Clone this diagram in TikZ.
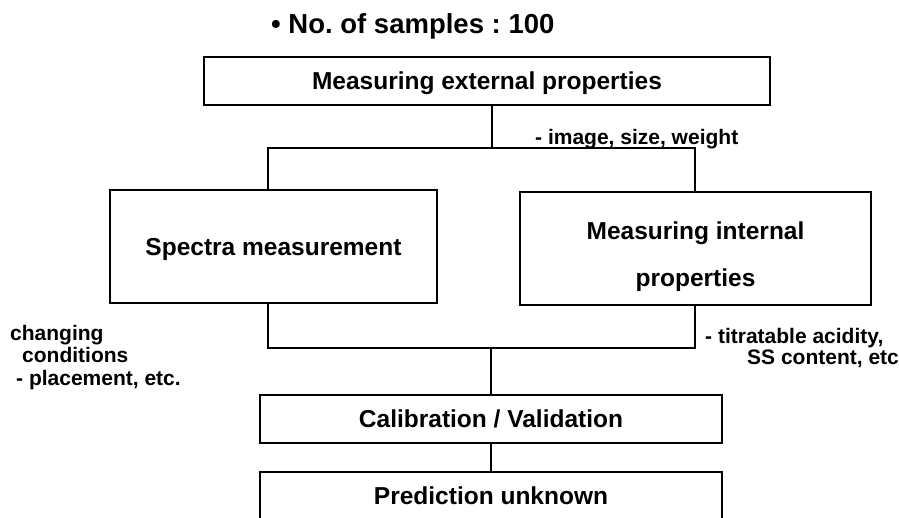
\documentclass[tikz,border=0pt]{standalone}
\usepackage{fontspec}
\setmainfont{Liberation Sans}
\usetikzlibrary{calc}
\frenchspacing
\begin{document}
\begin{tikzpicture}[x=1pt,y=-1pt,
  box/.style={draw, line width=1.6pt, inner sep=0pt, text height=17.5pt, text depth=0pt,
              font=\bfseries\fontsize{24.5}{26}\selectfont},
  lbl/.style={inner sep=0pt, font=\bfseries\fontsize{21}{22.5}\selectfont},
  conn/.style={line width=1.6pt}]
\useasboundingbox (0,0) rectangle (899,517);
\clip (0,0) rectangle (899,517);
\fill[white] (0,0) rectangle (899,517);
% title
\node[inner sep=0pt, anchor=base west, font=\bfseries\fontsize{27.5}{30}\selectfont] (title) at (271,33) {• No. of samples : 100};
% boxes
\node[box, minimum width=566pt, minimum height=48pt] (ext) at (487,81) {Measuring external properties};
\node[box, minimum width=327pt, minimum height=113pt] (spec) at (273.5,246.5) {Spectra measurement};
\node[box, minimum width=351pt, minimum height=113pt, align=center, text height=75pt,
      font=\bfseries\fontsize{24.5}{47}\selectfont] (int) at (695.5,248.5) {Measuring internal\\properties};
\node[box, minimum width=462pt, minimum height=48pt] (cal) at (491,419) {Calibration / Validation};
\node[box, minimum width=462pt, minimum height=48pt] (pred) at (491,496) {Prediction unknown};
% connector columns
\coordinate (lx) at (268,0);
\coordinate (rx) at (695,0);
% top connectors
\coordinate (tm) at (492,148);
\coordinate (tl) at (lx |- tm);
\coordinate (tr) at (rx |- tm);
\draw[conn] (ext.south -| tm) -- (tm);
\draw[conn] (spec.north -| lx) -- (tl) -- (tr) -- (int.north -| rx);
% bottom connectors
\coordinate (bl) at (268,348);
\coordinate (br) at (rx |- bl);
\draw[conn] (spec.south -| lx) -- (bl) -- (br) -- (int.south -| rx);
\draw[conn] (cal.north |- bl) -- (cal.north);
\draw[conn] (cal.south) -- (pred.north);
% labels (base = last line's baseline)
\node[lbl, anchor=base west] (lw) at (535,144) {- image, size, weight};
\node[lbl, anchor=base west, align=left, font=\bfseries\fontsize{21}{21}\selectfont] (lt) at (705,364)
  {- titratable acidity,\\\hspace*{42pt}SS content, etc};
\node[lbl, anchor=base west, align=left] (lc) at (10,385)
  {changing\\\hspace*{12pt}conditions\\\hspace*{6pt}- placement, etc.};
\end{tikzpicture}
\end{document}
